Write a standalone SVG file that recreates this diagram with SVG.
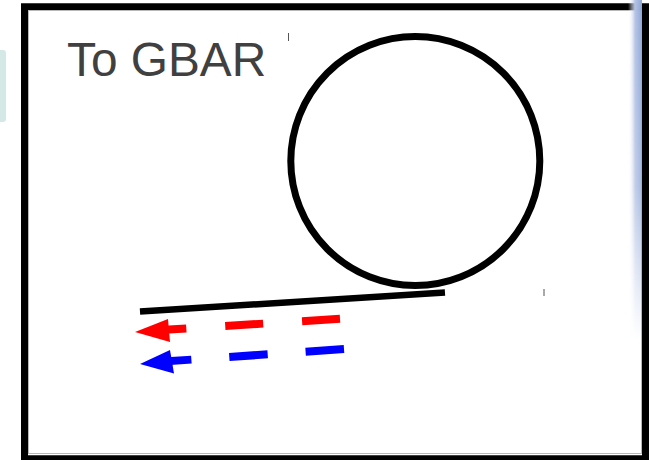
<svg xmlns="http://www.w3.org/2000/svg" width="649" height="460" viewBox="0 0 649 460">
  <style>
    .frame { fill: #ffffff; stroke: #000000; stroke-width: 7; }
    .inner { fill: none; stroke: #b8b8b8; stroke-width: 1; }
    .ring { fill: none; stroke: #000000; stroke-width: 7; }
    .guide { stroke: #000000; stroke-width: 6.5; stroke-linecap: butt; }
    .label { font-family: "Liberation Sans", Arial, sans-serif; font-size: 47.8px; fill: #404040; }
    .tick { stroke: #555555; stroke-width: 1; }
    .red { stroke: #ff0000; fill: #ff0000; }
    .blue { stroke: #0000ff; fill: #0000ff; }
    .flow { stroke-width: 8; fill: none; }
  </style>
  <defs>
    <linearGradient id="edgeGlow" x1="0" y1="0" x2="1" y2="0">
      <stop offset="0" stop-color="#ffffff" stop-opacity="0"/>
      <stop offset="0.5" stop-color="#b4c4e4"/>
      <stop offset="1" stop-color="#8ea6d6"/>
    </linearGradient>
    <linearGradient id="edgeFade" x1="0" y1="0" x2="0" y2="1">
      <stop offset="0" stop-color="#ffffff"/>
      <stop offset="0.55" stop-color="#ffffff" stop-opacity="0.8"/>
      <stop offset="1" stop-color="#ffffff" stop-opacity="0"/>
    </linearGradient>
    <mask id="edgeMask">
      <rect x="600" y="0" width="49" height="340" fill="url(#edgeFade)"/>
    </mask>
  </defs>

  <!-- background -->
  <rect x="0" y="0" width="649" height="460" fill="#ffffff"/>
  <rect x="-6" y="50" width="12" height="72" rx="3" fill="#d4e8e5"/>

  <!-- outer frame -->
  <g id="frame">
    <rect class="frame" x="24.5" y="6.75" width="621" height="452"/>
    <rect class="inner" x="28.5" y="10.5" width="613" height="443"/>
    <rect x="628" y="0" width="14" height="340" fill="url(#edgeGlow)" mask="url(#edgeMask)"/>
  </g>

  <!-- title -->
  <g id="label">
    <text class="label" x="67" y="76">To GBAR</text>
  </g>

  <!-- ring resonator -->
  <g id="ring">
    <circle class="ring" cx="415.3" cy="161" r="124.5"/>
  </g>

  <!-- bus waveguide -->
  <g id="waveguide">
    <line class="guide" x1="140" y1="311.5" x2="445" y2="292.5"/>
  </g>

  <!-- text cursors -->
  <g id="marks">
    <line class="tick" x1="288.5" y1="33" x2="288.5" y2="41"/>
    <line class="tick" x1="544" y1="289" x2="544" y2="296"/>
  </g>

  <!-- propagation arrows -->
  <g id="connectors">
    <g id="arrow-red" class="red">
      <line class="flow" x1="340" y1="318.8" x2="160" y2="330.1" stroke-dasharray="38 39"/>
      <polygon points="135,332 168,319 170,342" stroke="none"/>
    </g>
    <g id="arrow-blue" class="blue">
      <line class="flow" x1="344" y1="349" x2="163" y2="361.6" stroke-dasharray="38.5 38"/>
      <polygon points="140,364 170,350 174,373.5" stroke="none"/>
    </g>
  </g>
</svg>
